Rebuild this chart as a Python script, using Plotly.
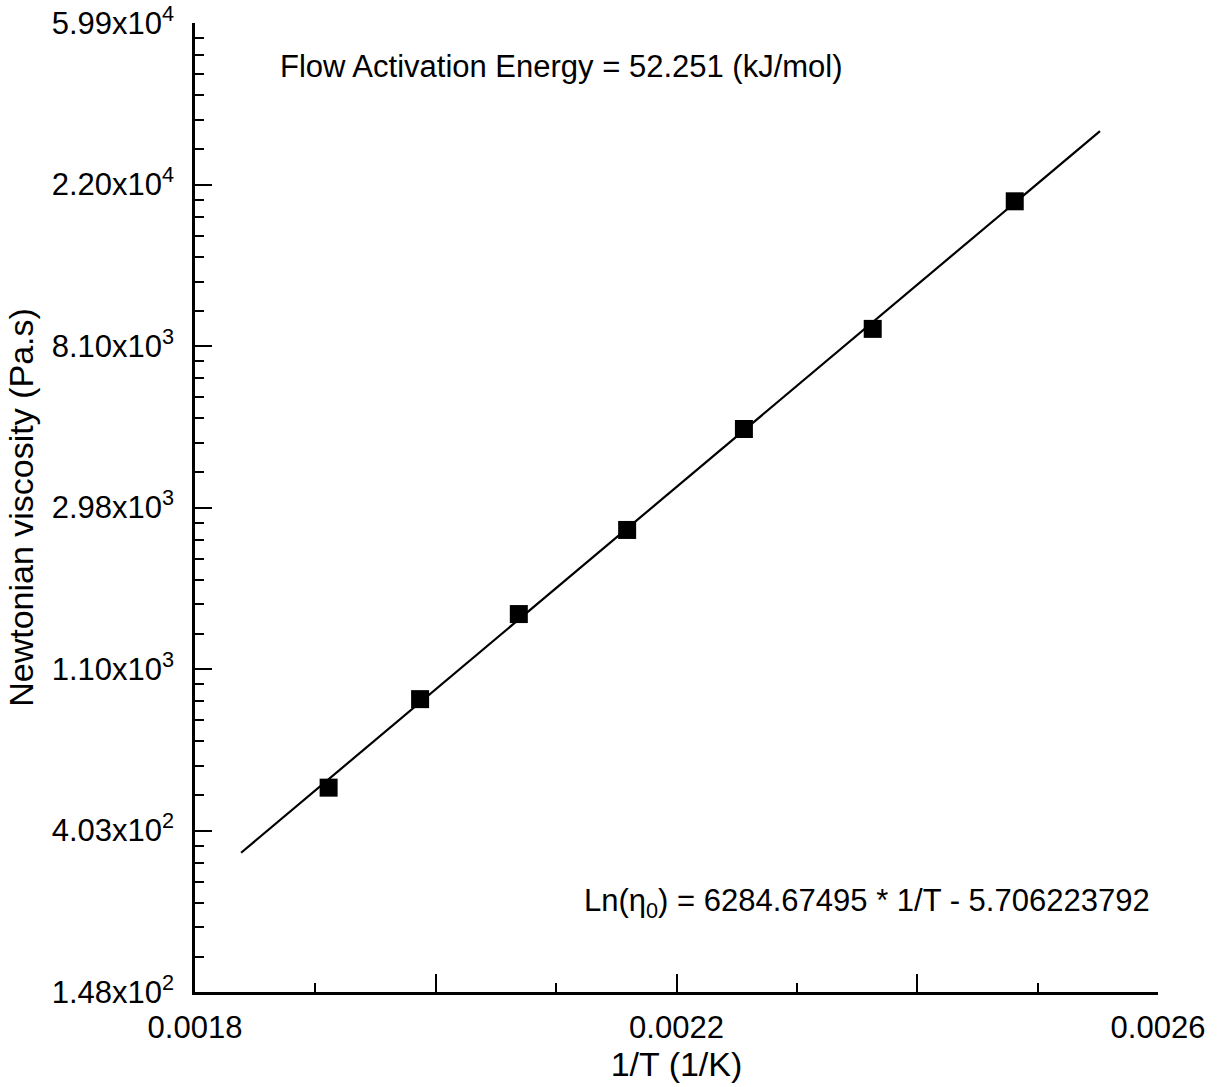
import math
import plotly.graph_objects as go

# Data
inv_T = [0.001911, 0.001987, 0.002069, 0.002159, 0.002256, 0.002363, 0.002481]
viscosity = [526, 910, 1541, 2594, 4846, 9009, 19850]

fit_x = [0.0018383, 0.0025518]
fit_eta = [351.5, 30640]

x_tick_vals = [0.0018, 0.0020, 0.0022, 0.0024, 0.0026]
x_tick_text = ["0.0018", "", "0.0022", "", "0.0026"]

y_tick_vals = [148.41, 403.43, 1096.63, 2980.96, 8103.08, 22026.47, 59874.14]
y_tick_text = ["1.48x10<sup>2</sup>", "4.03x10<sup>2</sup>", "1.10x10<sup>3</sup>",
               "2.98x10<sup>3</sup>", "8.10x10<sup>3</sup>", "2.20x10<sup>4</sup>",
               "5.99x10<sup>4</sup>"]

ann_energy = "Flow Activation Energy = 52.251 (kJ/mol)"
ann_eq = "Ln(η<sub>0</sub>) = 6284.67495 * 1/T - 5.706223792"

# minor ticks: 7 equal linear steps between successive major ticks
y_minor = []
for a, b in zip(y_tick_vals[:-1], y_tick_vals[1:]):
    step = (b - a) / 7
    y_minor += [a + k * step for k in range(1, 7)]

FONT = "Liberation Sans, Arial, sans-serif"

fig = go.Figure()
fig.add_trace(go.Scatter(x=fit_x, y=fit_eta, mode="lines",
                         line=dict(color="black", width=2.2), showlegend=False))
fig.add_trace(go.Scatter(x=inv_T, y=viscosity, mode="markers",
                         marker=dict(symbol="square", size=18, color="black"),
                         showlegend=False))

fig.update_layout(
    width=1221, height=1087,
    margin=dict(l=195, r=63, t=23, b=95, autoexpand=False),
    plot_bgcolor="white", paper_bgcolor="white",
    font=dict(family=FONT, size=31, color="black"),
    xaxis=dict(
        range=[0.0018, 0.0026], automargin=False,
        showline=True, linecolor="black", linewidth=2.5,
        showgrid=False, zeroline=False,
        ticks="inside", ticklen=18, tickwidth=2, tickcolor="black",
        tickmode="array", tickvals=x_tick_vals, ticktext=x_tick_text,
        ticklabelstandoff=6,
        minor=dict(ticks="inside", ticklen=9, tickwidth=2, tickcolor="black",
                   tick0=0.0018, dtick=0.0001, showgrid=False),
        title=dict(text="1/T (1/K)", font=dict(size=34), standoff=2),
        tickfont=dict(size=31),
    ),
    yaxis=dict(
        type="log", automargin=False,
        range=[math.log10(y_tick_vals[0]), math.log10(y_tick_vals[-1])],
        showline=True, linecolor="black", linewidth=2.5,
        showgrid=False, zeroline=False,
        ticks="inside", ticklen=17, tickwidth=2, tickcolor="black",
        tickmode="array", tickvals=y_tick_vals, ticktext=y_tick_text,
        ticklabelstandoff=12,
        minor=dict(ticks="inside", ticklen=9, tickwidth=2, tickcolor="black",
                   tickmode="array", tickvals=y_minor, showgrid=False),
        title=dict(text="Newtonian viscosity (Pa.s)", font=dict(size=34), standoff=8),
        tickfont=dict(size=31),
    ),
    annotations=[
        dict(text=ann_energy, xref="paper", yref="paper", x=0.0862, y=0.9555,
             xanchor="left", yanchor="middle", showarrow=False,
             font=dict(size=31, family=FONT)),
        dict(text=ann_eq, xref="paper", yref="paper", x=0.9938, y=0.0916,
             xanchor="right", yanchor="middle", showarrow=False,
             font=dict(size=31, family=FONT)),
    ],
)

fig.write_html("out.html")
